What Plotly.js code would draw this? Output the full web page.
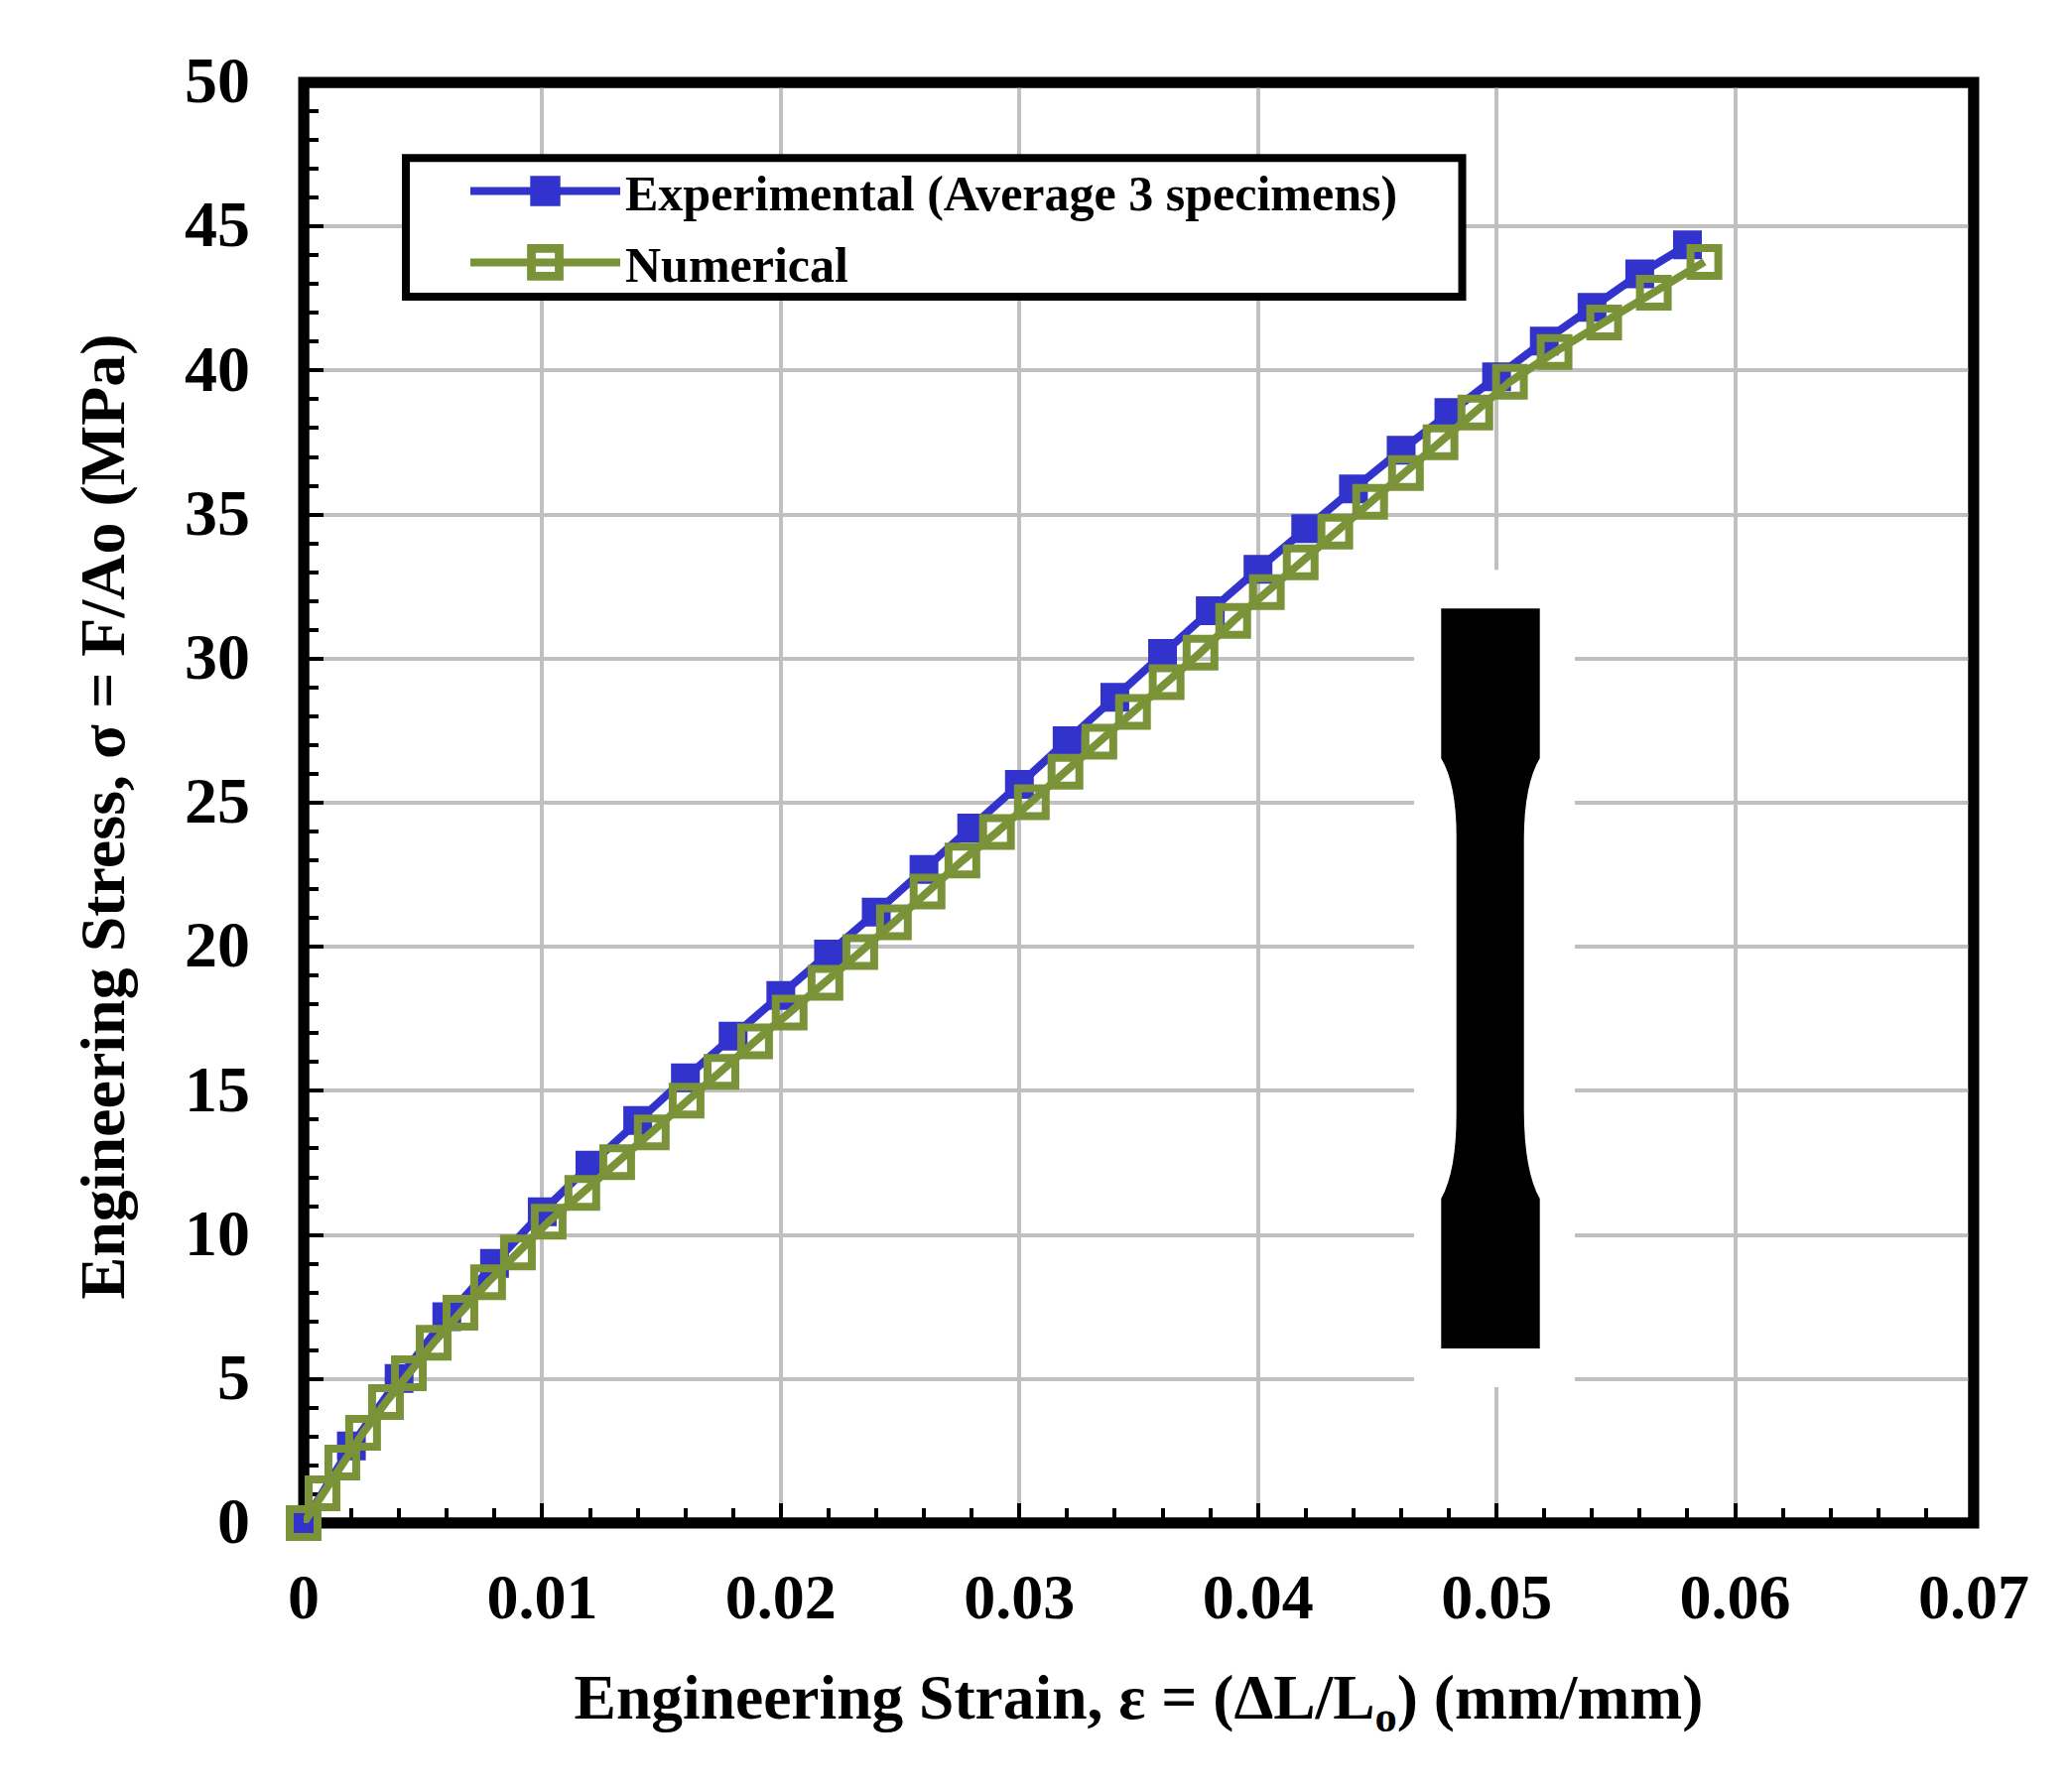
<!DOCTYPE html>
<html><head><meta charset="utf-8">
<script src="https://cdn.plot.ly/plotly-3.0.1.min.js"></script>
<style>html,body{margin:0;padding:0;background:#fff}#c{width:2088px;height:1804px}</style>
</head><body><div id="c"></div>
<script>
const expStrain=[0,0.002,0.004,0.006,0.008,0.010,0.012,0.014,0.016,0.018,0.020,0.022,0.024,0.026,0.028,0.030,0.032,0.034,0.036,0.038,0.040,0.042,0.044,0.046,0.048,0.050,0.052,0.054,0.056,0.058];
const expStress=[0,2.68,5.02,7.16,9.01,10.80,12.42,13.97,15.45,16.90,18.31,19.75,21.20,22.68,24.12,25.64,27.15,28.66,30.18,31.66,33.10,34.51,35.89,37.23,38.54,39.78,41.02,42.19,43.35,44.36];
const numStrain=[0,0.00079,0.00162,0.00249,0.00345,0.00441,0.00545,0.00657,0.00773,0.00898,0.01027,0.01168,0.01314,0.01459,0.01605,0.01751,0.01892,0.02037,0.02187,0.02333,0.02474,0.02615,0.02761,0.02906,0.03052,0.03193,0.03335,0.03476,0.03617,0.03759,0.03896,0.04037,0.04179,0.04324,0.04470,0.04620,0.04765,0.04911,0.05056,0.05243,0.05451,0.05659,0.05871];
const numStress=[0,1.03,2.10,3.13,4.20,5.20,6.26,7.30,8.36,9.39,10.46,11.46,12.53,13.56,14.66,15.66,16.72,17.72,18.75,19.82,20.85,21.92,22.99,23.98,25.02,26.08,27.12,28.15,29.18,30.21,31.31,32.31,33.34,34.41,35.44,36.44,37.51,38.54,39.61,40.64,41.67,42.70,43.77];
const xTicks=[0,0.01,0.02,0.03,0.04,0.05,0.06,0.07];
const xTickText=["0","0.01","0.02","0.03","0.04","0.05","0.06","0.07"];
const yTicks=[0,5,10,15,20,25,30,35,40,45,50];
const yTickText=["0","5","10","15","20","25","30","35","40","45","50"];
const expName="Experimental (Average 3 specimens)";
const numName="Numerical";
const xTitle="Engineering Strain, ε = (ΔL/L<sub>o</sub>) (mm/mm)";
const yTitle="Engineering Stress, σ = F/Ao (MPa)";
const BLUE="#3232cc", GREEN="#7a9339", GRID="#c0c0c0";
const FONT="Liberation Serif";

const W=2088,H=1804,L=306,R=1989,T=82.5,B=1535;
const px=v=>(v-L)/(R-L), py=v=>(B-v)/(B-T);
const dx=v=>px(v)*0.07, dy=v=>py(v)*50;
const P=(x,y)=>dx(x).toFixed(6)+","+dy(y).toFixed(4);

const specimen="M"+P(1452.3,613)+" L"+P(1551.7,613)+" L"+P(1551.7,764)
 +" Q"+P(1536,790)+" "+P(1535.7,845)+" L"+P(1535.7,1119.5)+" Q"+P(1536,1180)+" "+P(1551.7,1208)
 +" L"+P(1551.7,1359)+" L"+P(1452.3,1359)+" L"+P(1452.3,1208)
 +" Q"+P(1468,1180)+" "+P(1467.7,1119.5)+" L"+P(1467.7,845)+" Q"+P(1468,790)+" "+P(1452.3,764)+" Z";

const traces=[
 {x:expStrain,y:expStress,name:expName,legendgroup:"a",mode:"lines+markers",cliponaxis:false,
  line:{color:BLUE,width:8},marker:{symbol:"square",size:26,color:BLUE,line:{color:BLUE,width:3}}},
 {x:numStrain,y:numStress,name:numName,legendgroup:"b",mode:"lines+markers",cliponaxis:false,
  line:{color:GREEN,width:8},marker:{symbol:"square-open",size:28,color:GREEN,line:{color:GREEN,width:8}}}
];
const layout={
 width:W,height:H,paper_bgcolor:"#fff",plot_bgcolor:"#fff",showlegend:true,
 margin:{l:L,r:W-R,t:T,b:H-B,pad:0},
 xaxis:{range:[0,0.07],tickmode:"array",tickvals:xTicks,ticktext:xTickText,tickfont:{family:FONT,size:64,color:"#000",weight:"bold"},
  ticks:"inside",ticklen:20,tickwidth:4,tickcolor:"#000",showline:false,zeroline:false,
  showgrid:true,gridcolor:GRID,gridwidth:4,layer:"below traces",ticklabelstandoff:31,
  minor:{dtick:0.002,tick0:0,ticks:"inside",ticklen:15,tickwidth:4,tickcolor:"#000",showgrid:false},
  title:{text:xTitle,standoff:43,font:{family:FONT,size:63.5,color:"#000",weight:"bold"}}},
 yaxis:{range:[0,50],tickmode:"array",tickvals:yTicks,ticktext:yTickText,tickfont:{family:FONT,size:66,color:"#000",weight:"bold"},
  ticks:"inside",ticklen:20,tickwidth:4,tickcolor:"#000",showline:false,zeroline:false,
  showgrid:true,gridcolor:GRID,gridwidth:4,layer:"below traces",ticklabelstandoff:53,
  minor:{dtick:1,tick0:0,ticks:"inside",ticklen:15,tickwidth:4,tickcolor:"#000",showgrid:false},
  title:{text:yTitle,standoff:39,font:{family:FONT,size:64,color:"#000",weight:"bold"}}},
 legend:{x:px(469),y:py(153),xanchor:"left",yanchor:"top",bgcolor:"rgba(0,0,0,0)",borderwidth:0,
  font:{family:FONT,size:50,color:"#000",weight:"bold"},itemwidth:151,traceorder:"grouped",tracegroupgap:4,
  entrywidth:900,entrywidthmode:"pixels",itemclick:false,itemdoubleclick:false},
 shapes:[
  {type:"rect",xref:"paper",yref:"paper",x0:0,x1:1,y0:0,y1:1,line:{color:"#000",width:11},fillcolor:"rgba(0,0,0,0)",layer:"below"},
  {type:"rect",xref:"x",yref:"y",x0:dx(1425),x1:dx(1587),y0:dy(574),y1:dy(1398),fillcolor:"#fff",line:{width:0},layer:"between"},
  {type:"path",xref:"x",yref:"y",path:specimen,fillcolor:"#000",line:{width:0},layer:"between"},
  {type:"rect",xref:"x",yref:"y",x0:0,x1:0.07,y0:0,y1:50,line:{color:"#000",width:11},fillcolor:"rgba(0,0,0,0)",layer:"between"},
  {type:"rect",xref:"paper",yref:"paper",x0:px(409),x1:px(1473.5),y0:py(158.7),y1:py(298.5),fillcolor:"#fff",line:{color:"#000",width:8},layer:"above"}
 ]
};
Plotly.newPlot("c",traces,layout,{displayModeBar:false}).then(gd=>{
 const scale=[1.6,1.75];
 gd.querySelectorAll(".legend .legendpoints path").forEach((p,i)=>{
  p.setAttribute("transform",(p.getAttribute("transform")||"")+" scale("+scale[i%2]+")");
 });
 const yt=gd.querySelector(".ytitle");
 if(yt) yt.setAttribute("transform","translate(0,14) "+(yt.getAttribute("transform")||""));
 gd.querySelectorAll(".ytick text").forEach(t=>{
  t.setAttribute("transform","translate(0,-3) "+(t.getAttribute("transform")||""));
 });
});
</script></body></html>
